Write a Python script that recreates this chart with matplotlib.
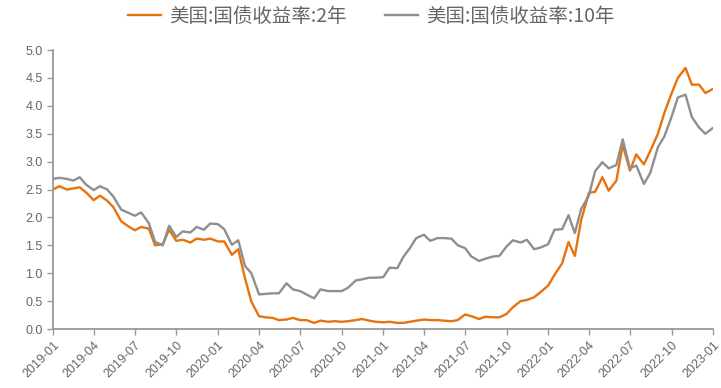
import matplotlib
matplotlib.use('Agg')
import matplotlib.pyplot as plt
import matplotlib.dates as mdates
import pandas as pd

# semi-monthly readings (1st and 15th), last point at year end
dates = list(pd.date_range('2019-01-01', '2022-12-15', freq='SMS')) + [pd.Timestamp('2022-12-31')]

# US Treasury yield, 2-year (%)
yield_2y = [
    2.50, 2.56, 2.50, 2.52, 2.54, 2.45, 2.31, 2.39, 2.30, 2.18, 1.93, 1.85,
    1.77, 1.83, 1.80, 1.50, 1.52, 1.78, 1.58, 1.60, 1.55, 1.62, 1.60, 1.62,
    1.57, 1.57, 1.33, 1.43, 0.91, 0.49, 0.23, 0.21, 0.20, 0.16, 0.17, 0.20,
    0.16, 0.16, 0.11, 0.15, 0.13, 0.14, 0.13, 0.14, 0.16, 0.18, 0.15, 0.13,
    0.12, 0.13, 0.11, 0.11, 0.13, 0.15, 0.17, 0.16, 0.16, 0.15, 0.14, 0.16,
    0.26, 0.23, 0.18, 0.22, 0.21, 0.21, 0.27, 0.39, 0.50, 0.52, 0.57, 0.66,
    0.78, 0.97, 1.18, 1.56, 1.31, 1.95, 2.44, 2.46, 2.72, 2.48, 2.66, 3.30,
    2.84, 3.13, 2.95, 3.19, 3.50, 3.87, 4.22, 4.50, 4.68, 4.38, 4.38, 4.23,
    4.30,
]

# US Treasury yield, 10-year (%)
yield_10y = [
    2.69, 2.71, 2.69, 2.66, 2.72, 2.59, 2.49, 2.56, 2.50, 2.37, 2.14, 2.09,
    2.03, 2.09, 1.90, 1.56, 1.50, 1.85, 1.65, 1.75, 1.73, 1.83, 1.78, 1.89,
    1.88, 1.79, 1.51, 1.59, 1.13, 1.00, 0.62, 0.63, 0.64, 0.64, 0.82, 0.71,
    0.68, 0.62, 0.55, 0.71, 0.68, 0.68, 0.68, 0.74, 0.87, 0.89, 0.92, 0.92,
    0.93, 1.10, 1.09, 1.30, 1.45, 1.63, 1.69, 1.58, 1.63, 1.63, 1.62, 1.50,
    1.45, 1.30, 1.22, 1.26, 1.30, 1.31, 1.48, 1.59, 1.55, 1.60, 1.43, 1.46,
    1.52, 1.78, 1.79, 2.04, 1.72, 2.15, 2.39, 2.83, 2.99, 2.88, 2.94, 3.40,
    2.88, 2.93, 2.60, 2.80, 3.26, 3.45, 3.80, 4.15, 4.20, 3.80, 3.61, 3.50,
    3.60,
]

label_2y = '美国:国债收益率:2年'
label_10y = '美国:国债收益率:10年'

ORANGE = '#E8720C'
GRAY = '#8F8F8F'
AXIS = '#999999'
TEXT = '#666666'

plt.rcParams['font.family'] = ['Liberation Sans', 'DejaVu Sans']

fig = plt.figure(figsize=(7.21, 3.88), dpi=100)
ax = fig.add_axes([0.0735, 0.152, 0.9155, 0.719])

ax.plot(dates, yield_2y, color=ORANGE, lw=1.7, label=label_2y)
ax.plot(dates, yield_10y, color=GRAY, lw=1.7, label=label_10y)

ax.set_ylim(0, 5)
ax.set_yticks([0, 0.5, 1, 1.5, 2, 2.5, 3, 3.5, 4, 4.5, 5])
ax.yaxis.set_major_formatter(matplotlib.ticker.FormatStrFormatter('%.1f'))
ax.set_xlim(pd.Timestamp('2019-01-01'), pd.Timestamp('2023-01-01'))
ax.xaxis.set_major_locator(mdates.MonthLocator(bymonth=[1, 4, 7, 10]))
ax.xaxis.set_major_formatter(mdates.DateFormatter('%Y-%m'))

for s in ['top', 'right']:
    ax.spines[s].set_visible(False)
for s in ['left', 'bottom']:
    ax.spines[s].set_color(AXIS)
    ax.spines[s].set_linewidth(1.3)

ax.tick_params(axis='both', colors=AXIS, labelcolor=TEXT, labelsize=9,
               direction='out', length=4, width=1)
for lbl in ax.get_xticklabels():
    lbl.set_rotation(45)
    lbl.set_ha('right')
    lbl.set_rotation_mode('anchor')

fig.legend(loc='center', bbox_to_anchor=(0.515, 0.958), ncol=2, frameon=False,
           prop={'family': ['Noto Sans CJK SC', 'DejaVu Sans'], 'size': 14},
           labelcolor=TEXT, handlelength=1.7, handletextpad=0.4,
           columnspacing=2.0)

fig.savefig('out.png', dpi=100, facecolor='white')
